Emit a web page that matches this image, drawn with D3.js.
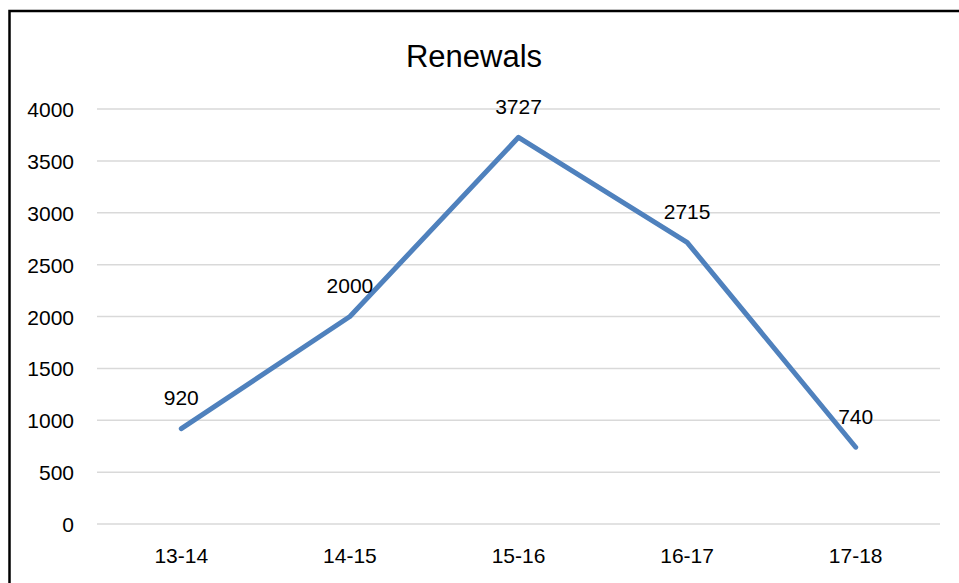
<!DOCTYPE html>
<html>
<head>
<meta charset="utf-8">
<script src="https://cdn.jsdelivr.net/npm/d3@7"></script>
<style>
  body { margin: 0; background: #fff; }
  text { font-family: "Liberation Sans", Arial, sans-serif; fill: #000; }
</style>
</head>
<body>
<div id="chart"></div>
<script>
// chart data
var years = ["13-14", "14-15", "15-16", "16-17", "17-18"]
var renewals = [920, 2000, 3727, 2715, 740]
var yTicks = [0, 500, 1000, 1500, 2000, 2500, 3000, 3500, 4000]

var W = 959, H = 583
var plot = { left: 97, right: 940, top: 109, bottom: 524 }

var svg = d3.select("#chart")
  .append("svg")
    .attr("width", W)
    .attr("height", H)

svg.append("rect")
  .attr("x", 0).attr("y", 0)
  .attr("width", W).attr("height", H)
  .attr("fill", "#fff")

// outer frame
svg.append("rect")
  .attr("x", 9.5).attr("y", 11)
  .attr("width", 980).attr("height", 620)
  .attr("fill", "none")
  .attr("stroke", "#000")
  .attr("stroke-width", 2.5)

var x = d3.scaleBand()
  .domain(years)
  .range([plot.left, plot.right])

var y = d3.scaleLinear()
  .domain([0, 4000])
  .range([plot.bottom, plot.top])

// gridlines
svg.append("g")
  .selectAll("line")
  .data(yTicks).enter()
  .append("line")
    .attr("x1", plot.left)
    .attr("x2", plot.right)
    .attr("y1", function (d) { return y(d) })
    .attr("y2", function (d) { return y(d) })
    .attr("stroke", "#d9d9d9")
    .attr("stroke-width", 1.5)

// y axis labels
var yAxis = svg.append("g")
  .attr("transform", "translate(" + (plot.left - 23) + ",0)")
  .call(d3.axisLeft(y).tickValues(yTicks).tickFormat(d3.format("d")).tickSize(0).tickPadding(0))
yAxis.select(".domain").remove()
yAxis.selectAll("text")
  .style("font-size", "21px")
  .style("font-family", "Liberation Sans, Arial, sans-serif")
  .attr("dy", "0.36em")

// x axis labels
var xAxis = svg.append("g")
  .attr("transform", "translate(0," + plot.bottom + ")")
  .call(d3.axisBottom(x).tickSize(0).tickPadding(24))
xAxis.select(".domain").remove()
xAxis.selectAll("text")
  .style("font-size", "21px")
  .style("font-family", "Liberation Sans, Arial, sans-serif")

var cx = function (d, i) { return x(years[i]) + x.bandwidth() / 2 }

// series line
var line = d3.line()
  .x(cx)
  .y(function (d) { return y(d) })

svg.append("path")
  .datum(renewals)
  .attr("d", line)
  .attr("fill", "none")
  .attr("stroke", "#4f81bd")
  .attr("stroke-width", 5)
  .attr("stroke-linecap", "round")
  .attr("stroke-linejoin", "round")

// data labels
svg.append("g")
  .selectAll("text")
  .data(renewals).enter()
  .append("text")
    .attr("x", cx)
    .attr("y", function (d) { return y(d) - 31 })
    .attr("dy", "0.36em")
    .attr("text-anchor", "middle")
    .style("font-size", "21px")
    .text(function (d) { return d })

// title
svg.append("text")
  .attr("x", 474)
  .attr("y", 67)
  .attr("text-anchor", "middle")
  .style("font-size", "31px")
  .text("Renewals")
</script>
</body>
</html>
